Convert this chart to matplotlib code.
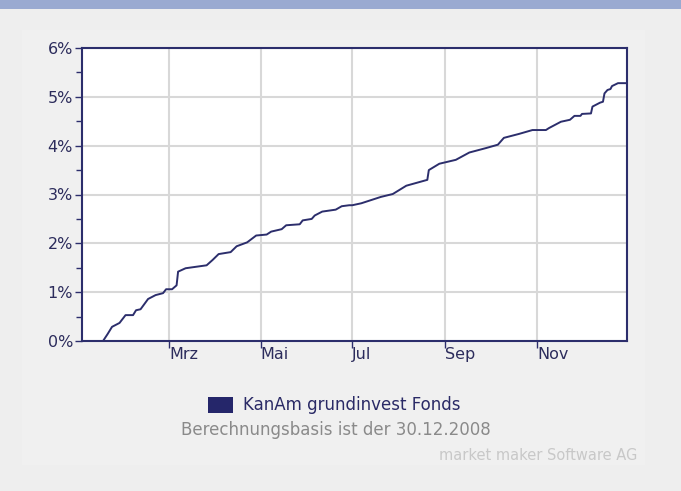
import numpy as np
import pandas as pd
import matplotlib
matplotlib.use("Agg")
import matplotlib.pyplot as plt
from matplotlib.patches import Rectangle

# performance of the fund in 2009 (percent)
dates = ["2009-01-02", "2009-01-16", "2009-01-19", "2009-01-22", "2009-01-27",
         "2009-01-31", "2009-02-05", "2009-02-07", "2009-02-10", "2009-02-15",
         "2009-02-20", "2009-02-25", "2009-02-27", "2009-03-03", "2009-03-06",
         "2009-03-07", "2009-03-12", "2009-03-19", "2009-03-26", "2009-03-30",
         "2009-04-03", "2009-04-11", "2009-04-15", "2009-04-22", "2009-04-28",
         "2009-05-05", "2009-05-08", "2009-05-15", "2009-05-18", "2009-05-27",
         "2009-05-29", "2009-06-04", "2009-06-06", "2009-06-11", "2009-06-20",
         "2009-06-24", "2009-06-29", "2009-07-01", "2009-07-07", "2009-07-14",
         "2009-07-20", "2009-07-28", "2009-08-06", "2009-08-13", "2009-08-20",
         "2009-08-21", "2009-08-28", "2009-09-08", "2009-09-17", "2009-09-28",
         "2009-10-06", "2009-10-10", "2009-10-20", "2009-10-29", "2009-11-07",
         "2009-11-09", "2009-11-17", "2009-11-23", "2009-11-26", "2009-11-30",
         "2009-12-01", "2009-12-07", "2009-12-08", "2009-12-13", "2009-12-15",
         "2009-12-16", "2009-12-18", "2009-12-20", "2009-12-21", "2009-12-25",
         "2009-12-30"]
values = [0.00, 0.00, 0.14, 0.29, 0.37,
          0.53, 0.53, 0.63, 0.65, 0.86,
          0.94, 0.98, 1.06, 1.06, 1.14,
          1.42, 1.49, 1.52, 1.55, 1.66,
          1.78, 1.82, 1.94, 2.02, 2.16,
          2.18, 2.24, 2.29, 2.37, 2.39,
          2.47, 2.50, 2.57, 2.65, 2.69,
          2.76, 2.78, 2.78, 2.82, 2.89,
          2.95, 3.01, 3.18, 3.24, 3.30,
          3.50, 3.63, 3.71, 3.86, 3.95,
          4.02, 4.16, 4.24, 4.32, 4.32,
          4.36, 4.49, 4.53, 4.61, 4.61,
          4.65, 4.66, 4.80, 4.88, 4.90,
          5.07, 5.14, 5.16, 5.22, 5.28,
          5.28]
month_ticks = ["2009-03-01", "2009-05-01", "2009-07-01", "2009-09-01", "2009-11-01"]
month_labels = ["Mrz", "Mai", "Jul", "Sep", "Nov"]
y_ticks = [0, 1, 2, 3, 4, 5, 6]
series_name = "KanAm grundinvest Fonds"
note = "Berechnungsbasis ist der 30.12.2008"
credit = "market maker Software AG"

navy = "#2c2e6c"
bg = "#eeeeee"

plt.rcParams["font.family"] = ["DejaVu Sans"]

fig = plt.figure(figsize=(6.81, 4.91), dpi=100)
fig.patch.set_facecolor(bg)

# top band and inner panel
fig.patches.append(Rectangle((0, 1 - 9 / 491), 1, 9 / 491, transform=fig.transFigure,
                             facecolor="#9aaad1", edgecolor="none"))
fig.patches.append(Rectangle((22 / 681, 1 - 465 / 491), 623 / 681, 435 / 491,
                             transform=fig.transFigure, facecolor="#f0f0f0",
                             edgecolor="none", zorder=-1))

ax = fig.add_axes([82 / 681, 1 - 341 / 491, 545 / 681, 293 / 491])
ax.set_facecolor("white")

x = pd.to_datetime(dates)
ax.plot(x, values, color=navy, lw=1.4, zorder=3)

ax.set_xlim(pd.Timestamp("2009-01-02"), pd.Timestamp("2009-12-31"))
ax.set_ylim(0, 6)

ax.set_xticks(pd.to_datetime(month_ticks))
ax.set_xticklabels(month_labels, ha="left")
ax.set_yticks(y_ticks)
ax.set_yticklabels([f"{v}%" for v in y_ticks])
ax.set_yticks(np.arange(0.5, 6, 1), minor=True)

ax.grid(True, which="major", color="#d8d8d8", lw=1.5, zorder=0)
ax.tick_params(axis="both", colors=navy, labelcolor="#2c2c5c", labelsize=11.5,
               width=1, length=5)
ax.tick_params(axis="y", which="minor", colors=navy, width=1, length=4)
ax.tick_params(axis="x", pad=-1)
ax.tick_params(axis="y", pad=1.5)
for lbl in ax.get_xticklabels():
    lbl.set_x(lbl.get_position()[0])
for s in ax.spines.values():
    s.set_color(navy)
    s.set_linewidth(1.5)

# legend and notes
fig.patches.append(Rectangle((208 / 681, 1 - 413 / 491), 25 / 681, 16 / 491,
                             transform=fig.transFigure, facecolor="#25266a",
                             edgecolor="none"))
fig.text(243 / 681, 1 - 405 / 491, series_name, color="#2a2a66", fontsize=12,
         ha="left", va="center")
fig.text(336 / 681, 1 - 430 / 491, note, color="#8a8a8a", fontsize=12,
         ha="center", va="center")
fig.text(637 / 681, 1 - 456 / 491, credit, color="#c8c8c8", fontsize=10.5,
         ha="right", va="center")

fig.savefig("out.png", dpi=100, facecolor=fig.get_facecolor())
